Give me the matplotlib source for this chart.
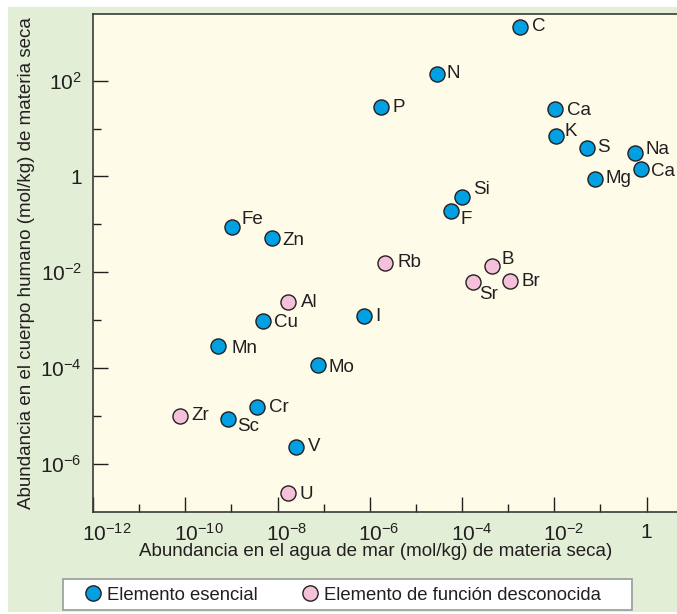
import numpy as np
import matplotlib
matplotlib.use('Agg')
import matplotlib.pyplot as plt
from matplotlib.ticker import FixedLocator, NullFormatter
from matplotlib.lines import Line2D
from matplotlib.patches import Rectangle
from matplotlib.transforms import ScaledTranslation

plt.rcParams['font.family'] = ['Liberation Sans', 'DejaVu Sans']
plt.rcParams['mathtext.fontset'] = 'custom'
plt.rcParams['mathtext.rm'] = 'Liberation Sans'
plt.rcParams['mathtext.it'] = 'Liberation Sans'

# essential elements: name, log10(sea water), log10(human body)
ess_names = ['C', 'N', 'P', 'Ca', 'K', 'S', 'Na', 'Ca', 'Mg', 'Si', 'F',
             'Fe', 'Zn', 'Cu', 'Mn', 'Mo', 'I', 'Cr', 'Sc', 'V']
ess_sea = [-2.75, -4.55, -5.75, -1.99, -1.97, -1.30, -0.24, -0.11, -1.12, -3.99, -4.25,
           -8.99, -8.13, -8.32, -9.28, -7.12, -6.13, -8.44, -9.08, -7.61]
ess_body = [3.12, 2.14, 1.44, 1.40, 0.85, 0.60, 0.50, 0.16, -0.05, -0.42, -0.73,
            -1.05, -1.29, -3.01, -3.54, -3.94, -2.92, -4.80, -5.05, -5.64]

# elements of unknown function
unk_names = ['Rb', 'B', 'Sr', 'Br', 'Al', 'Zr', 'U']
unk_sea = [-5.66, -3.35, -3.77, -2.97, -7.77, -10.12, -7.78]
unk_body = [-1.80, -1.875, -2.21, -2.19, -2.62, -4.99, -6.60]

# label offsets in pixels (dx right, dy up)
ess_off = [(12, 0), (10, 0), (11, 0), (12, -1), (9, 4), (11, 0), (10, 3), (10, -3),
           (11, 0), (11, 7), (10, -8), (10, 7), (11, -2), (11, -2), (13, -2),
           (10, -2), (11, 0), (12, -1), (9, -8), (12, 0)]
unk_off = [(12, 0), (9, 7), (6, -12), (12, 0), (13, 0), (12, 0), (12, -2)]

blue = '#00A0E2'
pink = '#F5C0DA'
dark = '#231F20'
W, H = 677, 614

fig = plt.figure(figsize=(W / 100, H / 100), dpi=100)
fig.patches.append(Rectangle((8 / W, 2 / H), 1, (H - 9) / H, transform=fig.transFigure,
                             facecolor='#E2EED6', edgecolor='none', zorder=-10))

ax = fig.add_axes([93 / W, (H - 512) / H, (W - 93) / W, (512 - 14) / H])
ax.set_facecolor('#FEFBE9')
ax.set_xscale('log')
ax.set_yscale('log')
ax.set_xlim(1e-12, 10 ** 0.66)
ax.set_ylim(1e-7, 10 ** 3.39)

ms = 118
ax.scatter(10 ** np.array(ess_sea), 10 ** np.array(ess_body), s=ms, c=blue,
           edgecolors=dark, linewidths=1.0, zorder=3, clip_on=False)
ax.scatter(10 ** np.array(unk_sea), 10 ** np.array(unk_body), s=ms, c=pink,
           edgecolors=dark, linewidths=1.0, zorder=3, clip_on=False)

for names, xs, ys, offs in [(ess_names, ess_sea, ess_body, ess_off),
                            (unk_names, unk_sea, unk_body, unk_off)]:
    for n, x, y, (dx, dy) in zip(names, xs, ys, offs):
        ax.annotate(n, (10 ** x, 10 ** y), xytext=(dx * 0.72, dy * 0.72),
                    textcoords='offset points', ha='left', va='center',
                    fontsize=13.5, color=dark)

xexp = list(range(-12, 1, 2))
yexp = list(range(-6, 3, 2))
xmin = [10.0 ** e for e in range(-11, 0, 2)]
ymin = [10.0 ** e for e in range(-5, 2, 2)]


def fmt(e):
    if e == 0:
        return '1'
    sup = str(e) if e > 0 else '-%d' % (-e)
    return r'$\mathregular{10^{%s}}$' % sup


ax.xaxis.set_major_locator(FixedLocator([10.0 ** e for e in xexp]))
ax.xaxis.set_minor_locator(FixedLocator(xmin))
ax.set_xticklabels([fmt(e) for e in xexp])
ax.yaxis.set_major_locator(FixedLocator([10.0 ** e for e in yexp]))
ax.yaxis.set_minor_locator(FixedLocator(ymin))
ax.set_yticklabels([fmt(e) for e in yexp])
ax.xaxis.set_minor_formatter(NullFormatter())
ax.yaxis.set_minor_formatter(NullFormatter())

ax.tick_params(which='major', direction='in', length=11, width=1, color=dark,
               labelsize=15, labelcolor=dark, pad=8)
ax.tick_params(which='minor', direction='in', length=6, width=1, color=dark)
for s in ['left', 'bottom', 'top']:
    ax.spines[s].set_color('#3a3a3a')
    ax.spines[s].set_linewidth(1.2)
ax.spines['right'].set_visible(False)

# keep the "10" of each x label centred on its tick, exponent sticking out right
shift = ScaledTranslation(-11.5 / 100, 0, fig.dpi_scale_trans)
for e, tick in zip(xexp, ax.xaxis.get_major_ticks()):
    if e != 0:
        tick.label1.set_horizontalalignment('left')
        tick.label1.set_transform(tick.label1.get_transform() + shift)

fig.text(27 / W, 1 - 263 / H, 'Abundancia en el cuerpo humano (mol/kg) de materia seca',
         rotation=90, ha='center', va='center', fontsize=13.5, color=dark)
fig.text(376 / W, 1 - 552 / H, 'Abundancia en el agua de mar (mol/kg) de materia seca)',
         ha='center', va='center', fontsize=13.5, color=dark)

# legend box drawn by hand, legend itself without frame
fig.patches.append(Rectangle((63 / W, 1 - 610 / H), (632 - 63) / W, 31 / H,
                             transform=fig.transFigure, facecolor='white',
                             edgecolor='#9a9a9a', linewidth=1.2, zorder=-5))
handles = [Line2D([], [], ls='none', marker='o', ms=11, mfc=blue, mec=dark, mew=1),
           Line2D([], [], ls='none', marker='o', ms=11, mfc=pink, mec=dark, mew=1)]
leg = fig.legend(handles, ['Elemento esencial', 'Elemento de función desconocida'],
                 loc='center left', bbox_to_anchor=(86 / W, 1 - 595 / H),
                 ncol=2, frameon=False, fontsize=13.3,
                 handlelength=0.8, handletextpad=0.34, columnspacing=2.45,
                 borderpad=0, borderaxespad=0)
for t in leg.get_texts():
    t.set_color(dark)

fig.savefig('out.png', dpi=100)
